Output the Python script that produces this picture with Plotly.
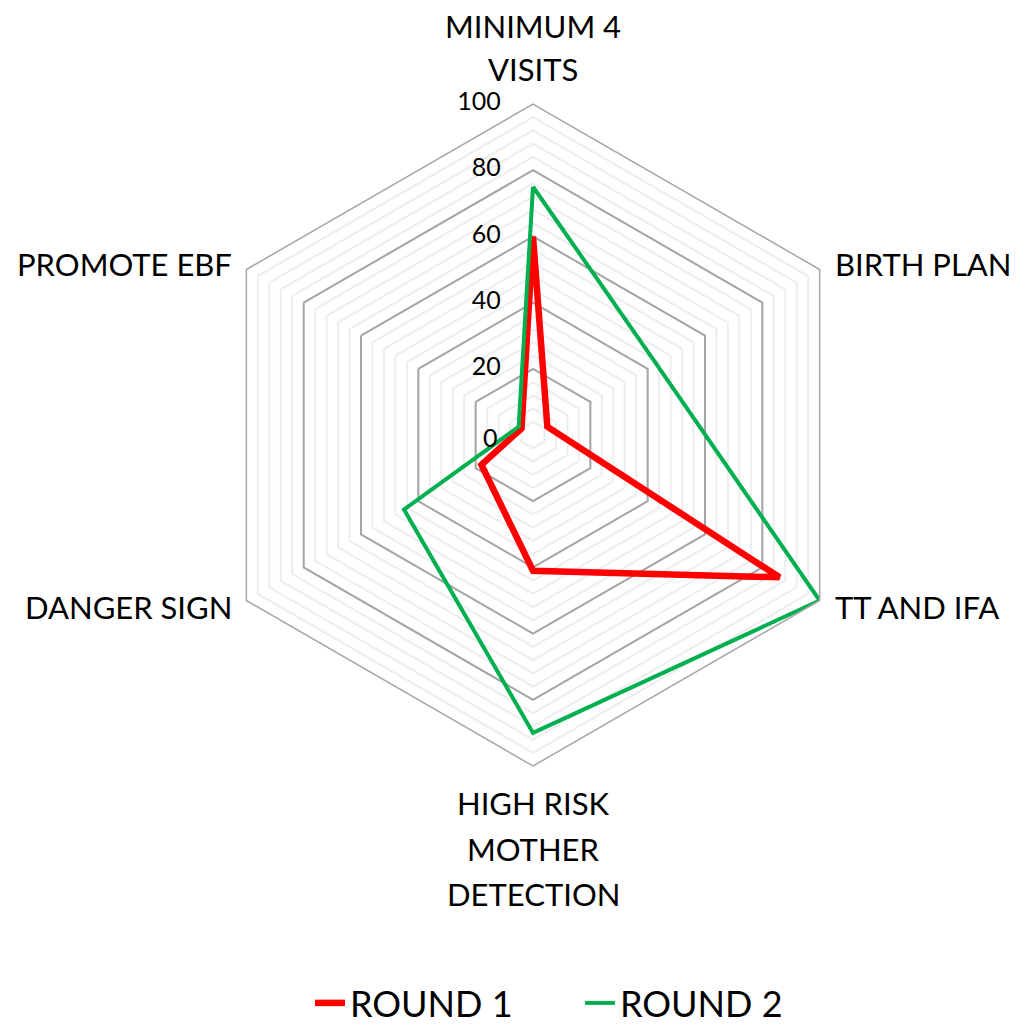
import plotly.graph_objects as go

categories = ["MINIMUM 4 VISITS", "BIRTH PLAN", "TT AND IFA",
              "HIGH RISK MOTHER DETECTION", "DANGER SIGN", "PROMOTE EBF"]
label_lines = [["MINIMUM 4", "VISITS"], ["BIRTH PLAN"], ["TT AND IFA"],
               ["HIGH RISK", "MOTHER", "DETECTION"], ["DANGER SIGN"], ["PROMOTE EBF"]]
round1 = [60, 5, 86, 41, 18, 4]
round2 = [75, 43, 100, 90, 45, 5]
radial_ticks = [0, 20, 40, 60, 80, 100]

font_name = "Lato, 'Open Sans', sans-serif"
W, H = 1030, 1027
OFF = 8  # default body margin of the html page


def px(x, y):
    # screen pixel -> paper coords
    return (x - OFF) / W, 1 - (y - OFF) / H


dom = dict(x=[194 / W, 856 / W], y=[1 - 758 / H, 1 - 96 / H])

fig = go.Figure()
fig.add_trace(go.Scatterpolar(
    r=round1 + round1[:1], theta=categories + categories[:1],
    mode='lines', name='ROUND 1', subplot='polar2',
    line=dict(color='#ff0000', width=6.5)
))
fig.add_trace(go.Scatterpolar(
    r=round2 + round2[:1], theta=categories + categories[:1],
    mode='lines', name='ROUND 2', subplot='polar2',
    line=dict(color='#00b050', width=4)
))
# radial tick labels, left of the top axis (invisible marker pushes the text out)
outer_ticks = [v for v in radial_ticks if v > 0]
fig.add_trace(go.Scatterpolar(
    r=outer_ticks, theta=[categories[0]] * len(outer_ticks),
    mode='markers+text', text=[str(v) for v in outer_ticks],
    textposition='middle left', textfont=dict(size=25, color='black'),
    marker=dict(size=50, color='rgba(0,0,0,0)'),
    showlegend=False, hoverinfo='skip', subplot='polar2', cliponaxis=False
))
# plotly drops a text point at r=0, so the centre label sits at the domain centre
fig.add_annotation(x=sum(dom['x']) / 2, y=sum(dom['y']) / 2, xref='paper', yref='paper',
                   text=str(radial_ticks[0]), showarrow=False, xanchor='right',
                   yanchor='middle', xshift=-33, yshift=-2,
                   font=dict(size=25, color='black'))
# invisible trace so the minor grid polar gets drawn
fig.add_trace(go.Scatterpolar(
    r=[0] * len(categories), theta=categories, mode='lines',
    line=dict(width=0), showlegend=False, hoverinfo='skip', subplot='polar'
))

# category labels (screen anchor, alignment, line spacing), one annotation per line
label_pos = [((533, 26), 'center', 43), ((833, 264), 'left', 0), ((833, 607), 'left', 0),
             ((533, 803), 'center', 45.5), ((234, 607), 'right', 0), ((234, 264), 'right', 0)]
for lines, ((lx, ly), al, gap) in zip(label_lines, label_pos):
    for i, t in enumerate(lines):
        xp, yp = px(lx, ly + i * gap)
        fig.add_annotation(x=xp, y=yp, xref='paper', yref='paper', text=t,
                           showarrow=False, xanchor=al, yanchor='middle',
                           font=dict(size=31, color='black'))

angular = dict(rotation=90, direction='clockwise', showgrid=False, ticks='',
               showticklabels=False)
fig.update_layout(
    width=W, height=H,
    margin=dict(l=0, r=0, t=0, b=0),
    paper_bgcolor='white',
    font=dict(family=font_name, color='black'),
    polar=dict(
        domain=dom, gridshape='linear', bgcolor='white',
        radialaxis=dict(range=[0, 100], tickvals=list(range(4, 101, 4)),
                        showticklabels=False, gridcolor='#ededed', gridwidth=1.5,
                        showline=False, ticks='', angle=90),
        angularaxis=dict(angular, showline=False),
    ),
    polar2=dict(
        domain=dom, gridshape='linear', bgcolor='rgba(0,0,0,0)',
        radialaxis=dict(range=[0, 100], tickvals=radial_ticks[1:], showticklabels=False,
                        gridcolor='#a6a6a6', gridwidth=1.5, showline=False,
                        ticks='', angle=90),
        angularaxis=dict(angular, showline=True, linecolor='#a6a6a6', linewidth=1.5),
    ),
    showlegend=True,
    legend=dict(orientation='h', x=px(310, 0)[0], xanchor='left',
                y=px(0, 1003)[1], yanchor='middle',
                font=dict(size=36), entrywidth=225, entrywidthmode='pixels'),
)

fig.write_html("out.html")
